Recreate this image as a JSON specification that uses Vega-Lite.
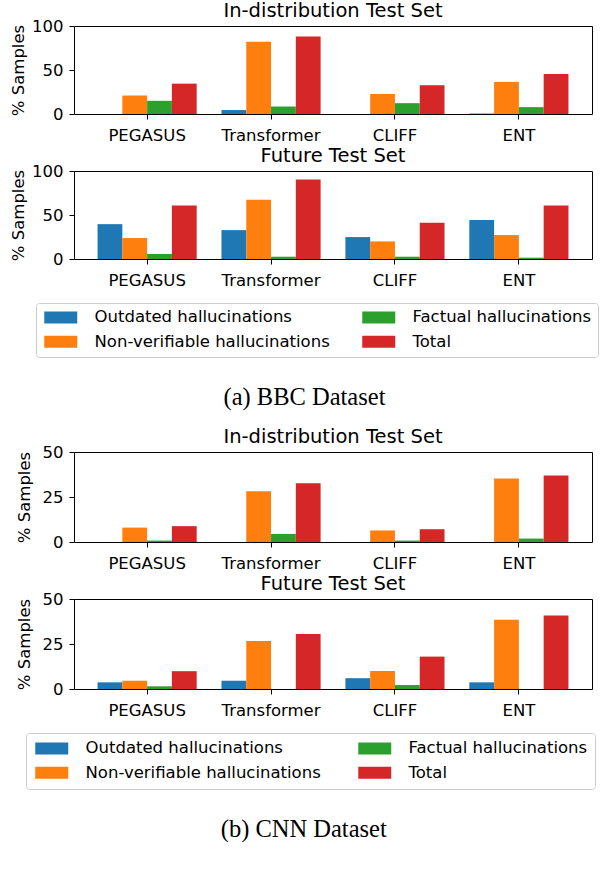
{
  "$schema": "https://vega.github.io/schema/vega-lite/v6.json",
  "padding": {"left": 10, "top": 0, "right": 0, "bottom": 0},
  "data": {"values": [
    {"dataset":"BBC","split":"In-distribution","model":"PEGASUS","category":"Outdated hallucinations","value":0},
    {"dataset":"BBC","split":"In-distribution","model":"PEGASUS","category":"Non-verifiable hallucinations","value":21},
    {"dataset":"BBC","split":"In-distribution","model":"PEGASUS","category":"Factual hallucinations","value":15},
    {"dataset":"BBC","split":"In-distribution","model":"PEGASUS","category":"Total","value":34.5},
    {"dataset":"BBC","split":"In-distribution","model":"Transformer","category":"Outdated hallucinations","value":4.5},
    {"dataset":"BBC","split":"In-distribution","model":"Transformer","category":"Non-verifiable hallucinations","value":82},
    {"dataset":"BBC","split":"In-distribution","model":"Transformer","category":"Factual hallucinations","value":8.5},
    {"dataset":"BBC","split":"In-distribution","model":"Transformer","category":"Total","value":88},
    {"dataset":"BBC","split":"In-distribution","model":"CLIFF","category":"Outdated hallucinations","value":0},
    {"dataset":"BBC","split":"In-distribution","model":"CLIFF","category":"Non-verifiable hallucinations","value":22.7},
    {"dataset":"BBC","split":"In-distribution","model":"CLIFF","category":"Factual hallucinations","value":12.3},
    {"dataset":"BBC","split":"In-distribution","model":"CLIFF","category":"Total","value":32.7},
    {"dataset":"BBC","split":"In-distribution","model":"ENT","category":"Outdated hallucinations","value":0.5},
    {"dataset":"BBC","split":"In-distribution","model":"ENT","category":"Non-verifiable hallucinations","value":36.5},
    {"dataset":"BBC","split":"In-distribution","model":"ENT","category":"Factual hallucinations","value":7.8},
    {"dataset":"BBC","split":"In-distribution","model":"ENT","category":"Total","value":45.4},
    {"dataset":"BBC","split":"Future","model":"PEGASUS","category":"Outdated hallucinations","value":39.6},
    {"dataset":"BBC","split":"Future","model":"PEGASUS","category":"Non-verifiable hallucinations","value":23.8},
    {"dataset":"BBC","split":"Future","model":"PEGASUS","category":"Factual hallucinations","value":5.7},
    {"dataset":"BBC","split":"Future","model":"PEGASUS","category":"Total","value":60.7},
    {"dataset":"BBC","split":"Future","model":"Transformer","category":"Outdated hallucinations","value":32.8},
    {"dataset":"BBC","split":"Future","model":"Transformer","category":"Non-verifiable hallucinations","value":67.2},
    {"dataset":"BBC","split":"Future","model":"Transformer","category":"Factual hallucinations","value":2.6},
    {"dataset":"BBC","split":"Future","model":"Transformer","category":"Total","value":90.2},
    {"dataset":"BBC","split":"Future","model":"CLIFF","category":"Outdated hallucinations","value":24.9},
    {"dataset":"BBC","split":"Future","model":"CLIFF","category":"Non-verifiable hallucinations","value":20},
    {"dataset":"BBC","split":"Future","model":"CLIFF","category":"Factual hallucinations","value":2.6},
    {"dataset":"BBC","split":"Future","model":"CLIFF","category":"Total","value":41.1},
    {"dataset":"BBC","split":"Future","model":"ENT","category":"Outdated hallucinations","value":44.2},
    {"dataset":"BBC","split":"Future","model":"ENT","category":"Non-verifiable hallucinations","value":27.2},
    {"dataset":"BBC","split":"Future","model":"ENT","category":"Factual hallucinations","value":1.5},
    {"dataset":"BBC","split":"Future","model":"ENT","category":"Total","value":60.7},
    {"dataset":"CNN","split":"In-distribution","model":"PEGASUS","category":"Outdated hallucinations","value":0},
    {"dataset":"CNN","split":"In-distribution","model":"PEGASUS","category":"Non-verifiable hallucinations","value":8.0},
    {"dataset":"CNN","split":"In-distribution","model":"PEGASUS","category":"Factual hallucinations","value":0.8},
    {"dataset":"CNN","split":"In-distribution","model":"PEGASUS","category":"Total","value":8.8},
    {"dataset":"CNN","split":"In-distribution","model":"Transformer","category":"Outdated hallucinations","value":0},
    {"dataset":"CNN","split":"In-distribution","model":"Transformer","category":"Non-verifiable hallucinations","value":28.2},
    {"dataset":"CNN","split":"In-distribution","model":"Transformer","category":"Factual hallucinations","value":4.5},
    {"dataset":"CNN","split":"In-distribution","model":"Transformer","category":"Total","value":32.7},
    {"dataset":"CNN","split":"In-distribution","model":"CLIFF","category":"Outdated hallucinations","value":0},
    {"dataset":"CNN","split":"In-distribution","model":"CLIFF","category":"Non-verifiable hallucinations","value":6.4},
    {"dataset":"CNN","split":"In-distribution","model":"CLIFF","category":"Factual hallucinations","value":0.8},
    {"dataset":"CNN","split":"In-distribution","model":"CLIFF","category":"Total","value":7.1},
    {"dataset":"CNN","split":"In-distribution","model":"ENT","category":"Outdated hallucinations","value":0},
    {"dataset":"CNN","split":"In-distribution","model":"ENT","category":"Non-verifiable hallucinations","value":35.3},
    {"dataset":"CNN","split":"In-distribution","model":"ENT","category":"Factual hallucinations","value":1.9},
    {"dataset":"CNN","split":"In-distribution","model":"ENT","category":"Total","value":37.0},
    {"dataset":"CNN","split":"Future","model":"PEGASUS","category":"Outdated hallucinations","value":3.7},
    {"dataset":"CNN","split":"Future","model":"PEGASUS","category":"Non-verifiable hallucinations","value":4.6},
    {"dataset":"CNN","split":"Future","model":"PEGASUS","category":"Factual hallucinations","value":1.5},
    {"dataset":"CNN","split":"Future","model":"PEGASUS","category":"Total","value":9.9},
    {"dataset":"CNN","split":"Future","model":"Transformer","category":"Outdated hallucinations","value":4.6},
    {"dataset":"CNN","split":"Future","model":"Transformer","category":"Non-verifiable hallucinations","value":26.6},
    {"dataset":"CNN","split":"Future","model":"Transformer","category":"Factual hallucinations","value":0},
    {"dataset":"CNN","split":"Future","model":"Transformer","category":"Total","value":30.5},
    {"dataset":"CNN","split":"Future","model":"CLIFF","category":"Outdated hallucinations","value":6.0},
    {"dataset":"CNN","split":"Future","model":"CLIFF","category":"Non-verifiable hallucinations","value":10.0},
    {"dataset":"CNN","split":"Future","model":"CLIFF","category":"Factual hallucinations","value":2.2},
    {"dataset":"CNN","split":"Future","model":"CLIFF","category":"Total","value":18.0},
    {"dataset":"CNN","split":"Future","model":"ENT","category":"Outdated hallucinations","value":3.7},
    {"dataset":"CNN","split":"Future","model":"ENT","category":"Non-verifiable hallucinations","value":38.5},
    {"dataset":"CNN","split":"Future","model":"ENT","category":"Factual hallucinations","value":0},
    {"dataset":"CNN","split":"Future","model":"ENT","category":"Total","value":40.9}
  ]},
  "spacing": 16,
  "resolve": {"scale": {"x": "independent", "y": "independent", "xOffset": "independent"}, "legend": {"color": "independent"}},
  "vconcat": [
    {
      "title": {"text": "(a) BBC Dataset", "orient": "bottom", "anchor": "middle", "frame": "bounds", "font": "Liberation Serif", "fontSize": 24.5, "fontWeight": "normal", "color": "black", "offset": 28},
      "spacing": 1,
      "resolve": {"scale": {"x": "independent", "y": "independent", "xOffset": "independent"}, "legend": {"color": "independent"}},
      "vconcat": [
        {
          "width": 518, "height": 88,
          "title": "In-distribution Test Set",
          "transform": [{"filter": "datum.dataset === 'BBC' && datum.split === 'In-distribution'"}],
          "mark": {"type": "bar"},
          "encoding": {
            "x": {"field": "model", "type": "nominal", "sort": ["PEGASUS","Transformer","CLIFF","ENT"], "scale": {"paddingInner": 0.2, "paddingOuter": 0.19}, "axis": {"title": null}},
            "xOffset": {"field": "category", "type": "nominal", "sort": ["Outdated hallucinations","Non-verifiable hallucinations","Factual hallucinations","Total"], "scale": {"paddingInner": 0, "paddingOuter": 0}},
            "y": {"field": "value", "type": "quantitative", "scale": {"domain": [0, 100], "nice": false}, "axis": {"title": "% Samples", "values": [0, 50, 100], "titlePadding": 5}},
            "color": {"field": "category", "type": "nominal", "scale": {"domain": ["Outdated hallucinations","Non-verifiable hallucinations","Factual hallucinations","Total"], "range": ["#1f77b4","#ff7f0e","#2ca02c","#d62728"]}, "legend": null}
          }
        },
        {
          "width": 518, "height": 88,
          "title": "Future Test Set",
          "transform": [{"filter": "datum.dataset === 'BBC' && datum.split === 'Future'"}],
          "mark": {"type": "bar"},
          "encoding": {
            "x": {"field": "model", "type": "nominal", "sort": ["PEGASUS","Transformer","CLIFF","ENT"], "scale": {"paddingInner": 0.2, "paddingOuter": 0.19}, "axis": {"title": null}},
            "xOffset": {"field": "category", "type": "nominal", "sort": ["Outdated hallucinations","Non-verifiable hallucinations","Factual hallucinations","Total"], "scale": {"paddingInner": 0, "paddingOuter": 0}},
            "y": {"field": "value", "type": "quantitative", "scale": {"domain": [0, 100], "nice": false}, "axis": {"title": "% Samples", "values": [0, 50, 100], "titlePadding": 5}},
            "color": {"field": "category", "type": "nominal", "scale": {"domain": ["Outdated hallucinations","Non-verifiable hallucinations","Factual hallucinations","Total"], "range": ["#1f77b4","#ff7f0e","#2ca02c","#d62728"]},
              "legend": {"orient": "none", "legendX": -38, "legendY": 132}}
          }
        }
      ]
    },
    {
      "title": {"text": "(b) CNN Dataset", "orient": "bottom", "anchor": "middle", "frame": "bounds", "font": "Liberation Serif", "fontSize": 24.5, "fontWeight": "normal", "color": "black", "offset": 28, "dx": -2},
      "spacing": 1,
      "resolve": {"scale": {"x": "independent", "y": "independent", "xOffset": "independent"}, "legend": {"color": "independent"}},
      "vconcat": [
        {
          "width": 518, "height": 90,
          "title": "In-distribution Test Set",
          "transform": [{"filter": "datum.dataset === 'CNN' && datum.split === 'In-distribution'"}],
          "mark": {"type": "bar"},
          "encoding": {
            "x": {"field": "model", "type": "nominal", "sort": ["PEGASUS","Transformer","CLIFF","ENT"], "scale": {"paddingInner": 0.2, "paddingOuter": 0.19}, "axis": {"title": null}},
            "xOffset": {"field": "category", "type": "nominal", "sort": ["Outdated hallucinations","Non-verifiable hallucinations","Factual hallucinations","Total"], "scale": {"paddingInner": 0, "paddingOuter": 0}},
            "y": {"field": "value", "type": "quantitative", "scale": {"domain": [0, 50], "nice": false}, "axis": {"title": "% Samples", "values": [0, 25, 50], "titlePadding": 10}},
            "color": {"field": "category", "type": "nominal", "scale": {"domain": ["Outdated hallucinations","Non-verifiable hallucinations","Factual hallucinations","Total"], "range": ["#1f77b4","#ff7f0e","#2ca02c","#d62728"]}, "legend": null}
          }
        },
        {
          "width": 518, "height": 90,
          "title": "Future Test Set",
          "transform": [{"filter": "datum.dataset === 'CNN' && datum.split === 'Future'"}],
          "mark": {"type": "bar"},
          "encoding": {
            "x": {"field": "model", "type": "nominal", "sort": ["PEGASUS","Transformer","CLIFF","ENT"], "scale": {"paddingInner": 0.2, "paddingOuter": 0.19}, "axis": {"title": null}},
            "xOffset": {"field": "category", "type": "nominal", "sort": ["Outdated hallucinations","Non-verifiable hallucinations","Factual hallucinations","Total"], "scale": {"paddingInner": 0, "paddingOuter": 0}},
            "y": {"field": "value", "type": "quantitative", "scale": {"domain": [0, 50], "nice": false}, "axis": {"title": "% Samples", "values": [0, 25, 50], "titlePadding": 10}},
            "color": {"field": "category", "type": "nominal", "scale": {"domain": ["Outdated hallucinations","Non-verifiable hallucinations","Factual hallucinations","Total"], "range": ["#1f77b4","#ff7f0e","#2ca02c","#d62728"]},
              "legend": {"orient": "none", "legendX": -48, "legendY": 134, "padding": 7, "columnPadding": 35}}
          }
        }
      ]
    }
  ],
  "config": {
    "font": "DejaVu Sans",
    "view": {"stroke": "black", "strokeWidth": 1},
    "axis": {"labelFont": "DejaVu Sans", "labelFontSize": 16.5, "labelColor": "black", "titleFont": "DejaVu Sans", "titleFontSize": 16.5, "titleFontWeight": "normal", "titleColor": "black", "tickColor": "black", "tickSize": 5, "tickWidth": 1, "domain": false, "grid": false},
    "axisX": {"labelPadding": 8, "labelAngle": 0},
    "axisY": {"labelPadding": 6, "titlePadding": 8},
    "title": {"font": "DejaVu Sans", "fontSize": 19.5, "fontWeight": "normal", "color": "black", "offset": -3, "anchor": "middle"},
    "legend": {"title": null, "columns": 2, "symbolType": "M-1,-1H4.5V1H-1Z", "symbolSize": 144, "symbolStrokeWidth": 0, "symbolOpacity": 1, "labelFont": "DejaVu Sans", "labelFontSize": 16.5, "labelColor": "black", "labelOffset": 36, "columnPadding": 30, "rowPadding": 7.5, "padding": 6, "strokeColor": "#cccccc", "fillColor": "white", "cornerRadius": 3, "labelLimit": 400}
  }
}
